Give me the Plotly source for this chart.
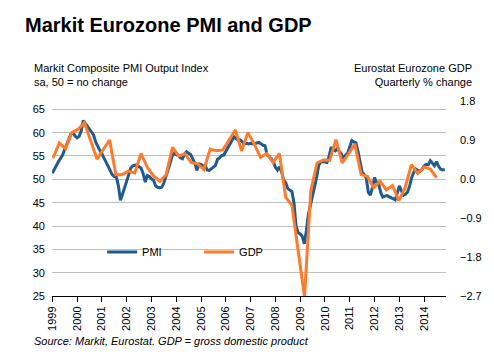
import numpy as np
import plotly.graph_objects as go

# ---------------- data ----------------
YEARS = [str(y) for y in range(1999, 2015)]

# Markit Eurozone Composite PMI, monthly Jan-1999 .. Nov-2014
PMI = [
    51.3, 52.2, 53.0, 53.8, 54.5, 55.2, 56.4, 57.6, 58.7, 59.7, 60.0, 59.3,   # 1999
    58.9, 59.2, 60.4, 62.6, 62.0, 61.3, 60.9, 60.2, 59.5, 58.0, 57.0, 56.2,   # 2000
    55.5, 54.6, 53.8, 52.6, 51.8, 51.0, 50.6, 50.5, 48.6, 45.5, 46.8, 48.4,   # 2001
    49.4, 51.0, 52.4, 52.9, 53.0, 53.1, 52.7, 52.4, 51.2, 49.4, 50.8, 50.6,   # 2002
    50.1, 49.8, 48.6, 48.3, 48.2, 48.3, 49.2, 50.5, 51.8, 53.4, 55.0, 55.6,   # 2003
    55.3, 55.1, 54.6, 54.4, 55.4, 55.9, 55.6, 55.3, 54.4, 53.5, 51.9, 53.3,   # 2004
    53.2, 52.8, 52.9, 52.0, 51.9, 52.2, 52.6, 53.0, 54.3, 54.6, 55.1, 55.2,   # 2005
    56.0, 57.0, 57.6, 58.4, 59.1, 58.7, 58.4, 58.4, 58.0, 57.6, 57.7, 57.6,   # 2006
    57.7, 57.7, 57.6, 57.8, 57.9, 57.6, 57.3, 57.2, 55.2, 54.9, 54.4, 53.8,   # 2007
    52.6, 52.0, 52.7, 51.6, 49.9, 49.3, 48.0, 47.6, 47.4, 45.0, 40.0, 38.6,   # 2008
    38.3, 37.8, 36.2, 39.0, 42.5, 44.5, 46.8, 48.5, 50.5, 53.0, 53.7, 53.8,   # 2009
    53.7, 53.6, 54.9, 56.9, 56.3, 56.1, 56.6, 56.1, 55.4, 54.4, 55.2, 55.6,   # 2010
    57.0, 58.3, 58.0, 57.8, 56.0, 53.8, 51.5, 51.0, 50.3, 47.2, 46.6, 48.3,   # 2011
    50.4, 49.3, 49.0, 47.2, 46.2, 46.4, 46.5, 46.3, 46.1, 45.9, 45.6, 47.0,   # 2012
    48.6, 47.6, 46.6, 46.8, 47.3, 48.6, 50.4, 51.5, 52.2, 51.9, 51.7, 52.1,   # 2013
    52.9, 53.2, 53.1, 54.0, 53.5, 52.9, 53.8, 52.8, 52.2, 52.0, 52.1,         # 2014
]

# Eurostat Eurozone GDP, quarterly % change, 1999Q1 .. 2014Q2
GDP = [
    0.48, 0.83, 0.70, 1.07,    # 1999
    1.15, 1.30, 0.88, 0.46,    # 2000
    0.68, 0.90, 0.10, 0.10,    # 2001
    0.18, 0.14, 0.59, 0.27,    # 2002
    0.07, -0.05, 0.10, 0.73,   # 2003
    0.53, 0.58, 0.38, 0.35,    # 2004
    0.22, 0.69, 0.65, 0.67,    # 2005
    0.90, 1.13, 0.65, 1.07,    # 2006
    0.81, 0.50, 0.59, 0.38,    # 2007
    0.59, -0.42, -0.61, -1.65, # 2008
    -2.72, -0.27, 0.37, 0.44,  # 2009
    0.43, 0.91, 0.37, 0.58,    # 2010
    0.81, 0.10, 0.06, -0.20,   # 2011
    -0.05, -0.25, -0.15, -0.50,# 2012
    -0.20, 0.33, 0.13, 0.28,   # 2013
    0.23, 0.03,                # 2014
]

# ---------------- styling ----------------
FONT = "Liberation Sans, Arial, sans-serif"
BLUE = "#1F5B8E"
ORANGE = "#FF7A2B"
GRID = "#BFBFBF"

W, H = 494, 354
ML, MR, MT, MB = 52, 41, 101, 58
PW, PH = W - ML - MR, H - MT - MB

def px(xp):
    return (xp - ML) / PW

def py(yp):
    return (H - MB - yp) / PH

months = np.arange(len(PMI))
quarters = np.arange(len(GDP))

fig = go.Figure()
fig.add_trace(go.Scatter(
    x=months, y=PMI, name="PMI", mode="lines",
    line=dict(color=BLUE, width=3), xaxis="x", yaxis="y",
))
fig.add_trace(go.Scatter(
    x=quarters, y=GDP, name="GDP", mode="lines",
    line=dict(color=ORANGE, width=3), xaxis="x2", yaxis="y2",
))

x_lo, x_hi = -0.14, 190.6
# quarterly axis: first quarter at x=53px, 6.40px per quarter
q_px0, q_step = 53.0, 6.40
x2_lo = (ML - q_px0) / q_step
x2_hi = (W - MR - q_px0) / q_step

fig.update_layout(
    width=W, height=H,
    margin=dict(l=ML, r=MR, t=MT, b=MB, pad=0),
    paper_bgcolor="white", plot_bgcolor="white",
    font=dict(family=FONT, size=11, color="#000000"),
    title=dict(
        text="<b>Markit Eurozone PMI and GDP</b>",
        font=dict(family=FONT, size=20, color="#000000"),
        x=25 / W, xanchor="left", xref="container",
        y=1 - 25 / H, yanchor="middle", yref="container",
    ),
    showlegend=True,
    legend=dict(
        orientation="h", x=px(103), y=py(252), xanchor="left", yanchor="middle",
        entrywidth=52, entrywidthmode="pixels",
        font=dict(family=FONT, size=11, color="#000000"),
        bgcolor="rgba(0,0,0,0)", itemwidth=30,
        tracegroupgap=0,
    ),
    xaxis=dict(
        range=[x_lo, x_hi], tickvals=[12 * i for i in range(len(YEARS))],
        ticktext=YEARS, tickangle=-90, ticks="outside", ticklen=5,
        tickcolor="#000000", tickwidth=1, showline=True, linecolor="#000000",
        linewidth=1, showgrid=False, zeroline=False,
        tickfont=dict(family=FONT, size=11, color="#000000"),
    ),
    yaxis=dict(
        range=[25, 25 + PH / 4.667], tickvals=list(range(25, 70, 5)),
        showgrid=True, gridcolor=GRID, gridwidth=1, zeroline=False,
        showline=False, ticks="", ticklabelstandoff=6,
        tickfont=dict(family=FONT, size=11, color="#000000"),
    ),
    xaxis2=dict(
        range=[x2_lo, x2_hi], overlaying="x", anchor="y2", visible=False,
    ),
    yaxis2=dict(
        range=[-2.7, 1.8], tickvals=[-2.7, -1.8, -0.9, 0.0, 0.9, 1.8],
        tickformat=".1f", overlaying="y", side="right", anchor="x2",
        showgrid=False, zeroline=False, showline=False, ticks="",
        ticklabelstandoff=13,
        tickfont=dict(family=FONT, size=11, color="#000000"),
    ),
)

ann = [
    dict(text="Markit Composite PMI Output Index<br>sa, 50 = no change",
         x=px(32), y=py(74.5), xanchor="left", yanchor="middle", align="left"),
    dict(text="Eurostat Eurozone GDP<br>Quarterly % change",
         x=px(481), y=py(74.5), xanchor="right", yanchor="middle", align="right"),
    dict(text="<i>Source: Markit, Eurostat. GDP = gross domestic product</i>",
         x=px(32), y=py(341), xanchor="left", yanchor="middle", align="left"),
]
for a in ann:
    fig.add_annotation(xref="paper", yref="paper", showarrow=False,
                       font=dict(family=FONT, size=11, color="#000000"), **a)

fig.write_html("out.html")
